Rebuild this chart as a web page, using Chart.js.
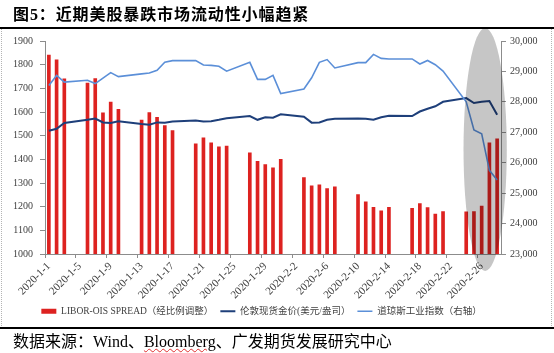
<!doctype html>
<html>
	<head>
		<meta charset="utf-8" />
		<title>近期美股暴跌市场流动性小幅趋紧</title>
		<script src="https://cdn.jsdelivr.net/npm/chart.js@4.4.1/dist/chart.umd.min.js"></script>
		<style>
			html,
			body {
				margin: 0;
				padding: 0;
				background: #fff;
			}

			#wrap {
				position: relative;
				width: 554px;
				height: 353px;
				overflow: hidden;
			}

			#chart {
				position: absolute;
				left: 0;
				top: 0;
			}

			.title {
				position: absolute;
				left: 13px;
				top: 5px;
				font: bold 16px "Liberation Serif", "Noto Sans CJK SC";
				line-height: 20px;
				letter-spacing: 0.9px;
				color: #000;
				white-space: nowrap;
			}

			.rule {
				position: absolute;
				left: 0;
				width: 554px;
				height: 2px;
				background: #000;
			}

			.frame {
				position: absolute;
				left: 1px;
				top: 29px;
				width: 549px;
				height: 297px;
				border: 1px dotted #b4b4b4;
				border-top: none;
				border-bottom: none;
			}

			.source {
				position: absolute;
				left: 13px;
				top: 332px;
				font: 16px "Liberation Serif", "Noto Sans CJK SC";
				line-height: 20px;
				color: #000;
				white-space: nowrap;
			}

			.source span {
				text-decoration: underline wavy #e03030;
				text-decoration-thickness: 1px;
				text-underline-offset: 1px;
			}
		</style>
	</head>

	<body>
		<div id="wrap">
			<div class="frame"></div>
			<canvas id="chart" width="554" height="353"></canvas>
			<div class="title">图5：近期美股暴跌市场流动性小幅趋紧</div>
			<div class="rule" style="top: 27px"></div>
			<div class="rule" style="top: 327px"></div>
			<div class="source">数据来源：Wind、<span>Bloomberg</span>、广发期货发展研究中心</div>
		</div>

		<script>
			// trading days shown on the date axis (weekends are empty slots)
			const tradingDays = [
				"2020-1-1", "2020-1-2", "2020-1-3", "2020-1-6", "2020-1-7", "2020-1-8",
				"2020-1-9", "2020-1-10", "2020-1-13", "2020-1-14", "2020-1-15", "2020-1-16",
				"2020-1-17", "2020-1-20", "2020-1-21", "2020-1-22", "2020-1-23", "2020-1-24",
				"2020-1-27", "2020-1-28", "2020-1-29", "2020-1-30", "2020-1-31",
				"2020-2-3", "2020-2-4", "2020-2-5", "2020-2-6", "2020-2-7", "2020-2-10",
				"2020-2-11", "2020-2-12", "2020-2-13", "2020-2-14", "2020-2-17", "2020-2-18",
				"2020-2-19", "2020-2-20", "2020-2-21", "2020-2-24", "2020-2-25", "2020-2-26",
				"2020-2-27", "2020-2-28",
			];

			// LIBOR-OIS spread, rescaled to the left axis
			const liborOis = [
				1840, 1820, 1740, 1722, 1741, 1597, 1642, 1611, 1566, 1598, 1577, 1543,
				1521, 1466, 1491, 1470, 1453, 1456, 1428, 1392, 1378, 1364, 1400,
				1323, 1288, 1292, 1276, 1284, 1251, 1220, 1197, 1182, 1197, 1193, 1213,
				1196, 1169, 1179, 1178, 1179, 1203, 1470, 1487,
			];

			// London spot gold, USD/oz (left axis)
			const goldPrice = [
				1521, 1529, 1554, 1567, 1572, 1556, 1554, 1561, 1549, 1546, 1556, 1555,
				1560, 1564, 1560, 1561, 1567, 1574, 1583, 1567, 1578, 1576, 1590,
				1580, 1555, 1556, 1567, 1571, 1573, 1571, 1567, 1578, 1584, 1583, 1602,
				1614, 1624, 1643, 1659, 1638, 1643, 1646, 1588,
			];

			// Dow Jones Industrial Average (right axis)
			const dowJones = [
				28540, 28869, 28650, 28710, 28600, 28780, 28960, 28830, 28920, 28950, 29040, 29300,
				29355, 29355, 29210, 29200, 29170, 29010, 29300, 28740, 28740, 28870, 28270,
				28420, 28790, 29300, 29390, 29115, 29290, 29290, 29560, 29430, 29410, 29410, 29245,
				29360, 29220, 29010, 28000, 27080, 26950, 25750, 25430,
			];

			const tickLabels = [
				"2020-1-1", "2020-1-5", "2020-1-9", "2020-1-13", "2020-1-17", "2020-1-21",
				"2020-1-25", "2020-1-29", "2020-2-2", "2020-2-6", "2020-2-10", "2020-2-14",
				"2020-2-18", "2020-2-22", "2020-2-26",
			];

			const seriesNames = [
				"LIBOR-OIS SPREAD（经比例调整）",
				"伦敦现货金价(美元/盎司）",
				"道琼斯工业指数（右轴）",
			];

			// every calendar day from the first to the last trading day
			const allDays = [];
			for (
				let d = new Date(2020, 0, 1);
				d <= new Date(2020, 1, 28);
				d.setDate(d.getDate() + 1)
			) {
				allDays.push(d.getFullYear() + "-" + (d.getMonth() + 1) + "-" + d.getDate());
			}

			function onCalendar(values) {
				const byDay = new Map(tradingDays.map((day, i) => [day, values[i]]));
				return allDays.map((day) => (byDay.has(day) ? byDay.get(day) : null));
			}

			const axisGrey = "#8c8c8c",
				tickFont = { family: "Liberation Serif", size: 10 };

			// grey highlight over the late-February sell-off
			const highlight = {
				id: "highlight",
				afterDraw(chart) {
					const { ctx, chartArea, scales } = chart;
					const step = scales.x.getPixelForValue(1) - scales.x.getPixelForValue(0);
					const cx = scales.x.getPixelForValue(allDays.indexOf("2020-2-26")) + step * 0.45;
					const cy = (chartArea.top + chartArea.bottom) / 2 + 2;
					ctx.save();
					ctx.globalCompositeOperation = "multiply";
					ctx.fillStyle = "rgb(198,198,198)";
					ctx.beginPath();
					ctx.ellipse(cx, cy, step * 2.8, (chartArea.bottom - chartArea.top) * 0.57, 0, 0, Math.PI * 2);
					ctx.fill();
					ctx.restore();
				},
			};

			new Chart(document.getElementById("chart"), {
				type: "bar",
				data: {
					labels: allDays,
					datasets: [
						{
							label: seriesNames[0],
							data: onCalendar(liborOis),
							backgroundColor: "#dd2220",
							borderWidth: 0,
							barThickness: 3,
							yAxisID: "y",
							pointStyle: "rect",
							order: 3,
						},
						{
							type: "line",
							label: seriesNames[1],
							data: onCalendar(goldPrice),
							borderColor: "#1e3f7a",
							backgroundColor: "#1e3f7a",
							borderWidth: 2,
							pointRadius: 0,
							pointStyle: "line",
							spanGaps: true,
							tension: 0,
							yAxisID: "y",
							order: 2,
						},
						{
							type: "line",
							label: seriesNames[2],
							data: onCalendar(dowJones),
							borderColor: "#5b8fd8",
							backgroundColor: "#5b8fd8",
							borderWidth: 1.6,
							pointRadius: 0,
							pointStyle: "line",
							spanGaps: true,
							tension: 0,
							yAxisID: "y1",
							order: 1,
						},
					],
				},
				options: {
					responsive: false,
					animation: false,
					// negative left padding moves the centred legend to where the original sits
					layout: { padding: { top: 41, left: -31, right: 0, bottom: 27 } },
					plugins: {
						tooltip: { enabled: false },
						legend: {
							position: "bottom",
							labels: {
								usePointStyle: true,
								pointStyleWidth: 15,
								boxHeight: 5,
								padding: 7,
								color: "#404040",
								font: { family: "Liberation Serif, Noto Sans CJK SC", size: 9.5 },
								sort: (a, b) => a.datasetIndex - b.datasetIndex,
							},
						},
					},
					scales: {
						x: {
							offset: true,
							grid: {
								offset: true,
								drawOnChartArea: false,
								tickLength: 4,
								color: (c) => (c.index % 4 === 0 ? axisGrey : "rgba(0,0,0,0)"),
							},
							border: { color: axisGrey },
							ticks: {
								autoSkip: false,
								minRotation: 45,
								maxRotation: 45,
								padding: 2,
								color: "#404040",
								font: { family: "Liberation Serif", size: 11 },
								callback: (v, i) => (tickLabels.includes(allDays[i]) ? allDays[i] : ""),
							},
							afterFit: (s) => {
								s.height = 45.5;
							},
						},
						y: {
							position: "left",
							min: 1000,
							max: 1900,
							grid: { drawOnChartArea: false, tickLength: 5, color: axisGrey },
							border: { color: axisGrey },
							ticks: {
								stepSize: 100,
								padding: 7,
								color: "#404040",
								font: tickFont,
								callback: (v) => String(v),
							},
							afterFit: (s) => {
								s.width = 76;
							},
						},
						y1: {
							position: "right",
							min: 23000,
							max: 30000,
							grid: { drawOnChartArea: false, tickLength: 5, color: axisGrey },
							border: { color: axisGrey },
							ticks: {
								stepSize: 1000,
								padding: 4,
								color: "#404040",
								font: tickFont,
								callback: (v) => v.toLocaleString("en-US"),
							},
							afterFit: (s) => {
								s.width = 53;
							},
						},
					},
				},
				plugins: [highlight],
			});
		</script>
	</body>
</html>
